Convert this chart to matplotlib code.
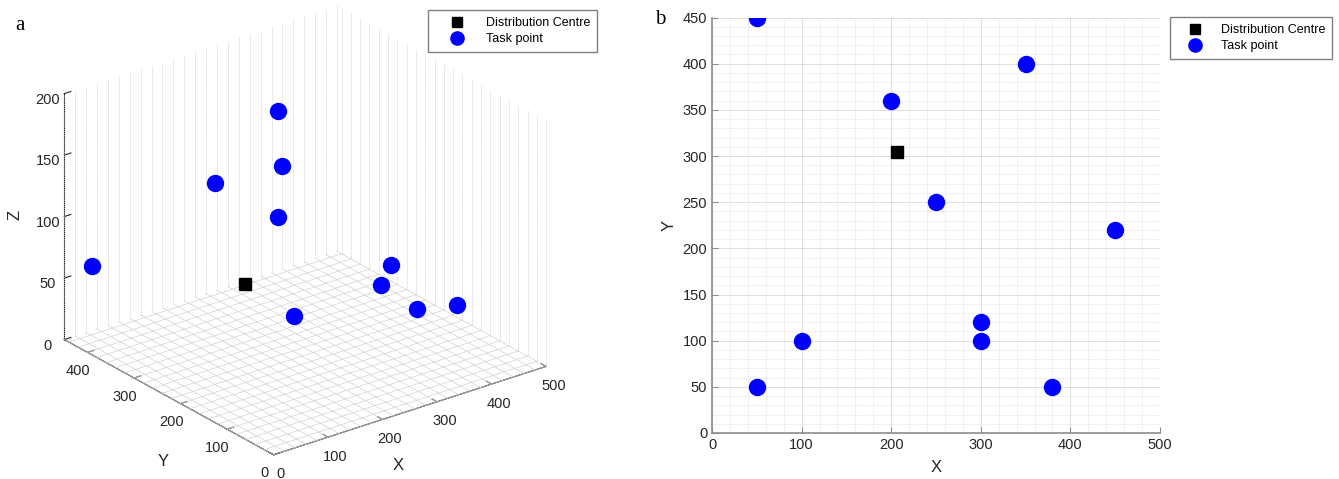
import numpy as np
import matplotlib
matplotlib.use('Agg')
import matplotlib.pyplot as plt
from matplotlib.ticker import MultipleLocator
from matplotlib.lines import Line2D

plt.rcParams['font.family'] = ['Liberation Sans', 'DejaVu Sans']

# task points (x, y, z) and the distribution centre
task_x = [50, 350, 200, 250, 450, 300, 100, 300, 50, 380]
task_y = [450, 400, 360, 250, 220, 120, 100, 100, 50, 50]
task_z = [53, 146, 117, 25, 8, 70, 200, 90, 176, 57]
dc_x = [207]
dc_y = [304]
dc_z = [46]

x_lim = (0, 500)
y_lim = (0, 450)
z_lim = (0, 200)
minor_step = 20  # spacing of the fine grid in the 3D view

txt_col = '#262626'
grid_col = '#d2d2d2'

fig = plt.figure(figsize=(13.39, 4.79), dpi=100)

# ---------------- a: 3D view ----------------
ax3 = fig.add_axes([-0.0180, -0.0594, 0.481, 1.128], projection='3d', computed_zorder=False)
ax3.set_proj_type('ortho')
ax3.view_init(elev=25, azim=-127.5)
ax3.set_box_aspect((1, 1, 0.79))
ax3.grid(False)

# fine grid on floor and the two back walls (MATLAB "grid minor" look)
gx = np.arange(x_lim[0], x_lim[1] + 1, minor_step)
gy = np.arange(y_lim[0], y_lim[1] + 1, minor_step)
gkw = dict(color=grid_col, linewidth=0.5, zorder=1)
for xv in gx:
    ax3.plot([xv, xv], list(y_lim), [0, 0], **gkw)
    ax3.plot([xv, xv], [y_lim[1]] * 2, list(z_lim), linestyle=(0, (2, 1)), **gkw)
for yv in gy:
    ax3.plot(list(x_lim), [yv, yv], [0, 0], **gkw)
    ax3.plot([x_lim[1]] * 2, [yv, yv], list(z_lim), linestyle=(0, (2, 1)), **gkw)

ax3.plot(dc_x, dc_y, dc_z, 's', color='black', markersize=9, linestyle='none', zorder=5)
ax3.plot(task_x, task_y, task_z, 'o', color='blue', markersize=11.5, linestyle='none', zorder=5)

ax3.set_xlim(*x_lim)
ax3.set_ylim(*y_lim)
ax3.set_zlim(*z_lim)
ax3.set_xticks(np.arange(0, 501, 100))
ax3.set_yticks(np.arange(0, 401, 100))
ax3.set_zticks(np.arange(0, 201, 50))

for axis in (ax3.xaxis, ax3.yaxis, ax3.zaxis):
    axis.set_pane_color((1, 1, 1, 0))
    axis._axinfo['axisline']['color'] = '#404040'
    axis._axinfo['axisline']['linewidth'] = 0.9
    axis._axinfo['tick']['inward_factor'] = 0.0
    axis._axinfo['tick']['outward_factor'] = 0.3
    axis._axinfo['tick']['color'] = '#404040'
ax3.tick_params(labelsize=10.5, colors=txt_col, pad=-1)

# axis titles placed where MATLAB puts them
fig.text(163 / 1339, 1 - 462 / 479, 'Y', fontsize=12, color=txt_col, ha='center', va='center')
fig.text(398 / 1339, 1 - 466 / 479, 'X', fontsize=12, color=txt_col, ha='center', va='center')
fig.text(15 / 1339, 1 - 215 / 479, 'Z', fontsize=12, color=txt_col, ha='center', va='center',
         rotation=90)

leg_kw = dict(fontsize=9, frameon=True, fancybox=False, edgecolor='#808080', framealpha=1,
              borderpad=0.55, handletextpad=0.6, labelspacing=0.35, borderaxespad=0)
h_dc = Line2D([], [], marker='s', color='black', linestyle='none', markersize=7.5)
h_tp = Line2D([], [], marker='o', color='blue', linestyle='none', markersize=9.5)
fig.legend([h_dc, h_tp], ['Distribution Centre', 'Task point'], handlelength=3.5,
           loc='upper left', bbox_to_anchor=(428 / 1339, 1 - 10 / 479), **leg_kw)

fig.text(15 / 1339, 1 - 25 / 479, 'a', family='Liberation Serif', fontsize=15, va='center')

# ---------------- b: plan view ----------------
ax2 = fig.add_axes([712 / 1339, 1 - 433 / 479, 448 / 1339, 415.5 / 479])
ax2.plot(dc_x, dc_y, 's', color='black', markersize=9, linestyle='none')
ax2.plot(task_x, task_y, 'o', color='blue', markersize=11.5, linestyle='none')
ax2.set_xlim(*x_lim)
ax2.set_ylim(*y_lim)
ax2.xaxis.set_major_locator(MultipleLocator(100))
ax2.xaxis.set_minor_locator(MultipleLocator(20))
ax2.yaxis.set_major_locator(MultipleLocator(50))
ax2.yaxis.set_minor_locator(MultipleLocator(10))
ax2.grid(True, which='major', color='#d9d9d9', linewidth=0.6)
ax2.grid(True, which='minor', color='#e3e3e3', linewidth=0.5, linestyle=(0, (2, 1)))
ax2.set_axisbelow(True)
for s in ('top', 'right'):
    ax2.spines[s].set_visible(False)
for s in ('left', 'bottom'):
    ax2.spines[s].set_color('#8c8c8c')
    ax2.spines[s].set_linewidth(1.2)
ax2.tick_params(which='both', direction='in', colors='#8c8c8c', labelcolor=txt_col, labelsize=10.5)
ax2.tick_params(which='major', length=4)
ax2.tick_params(which='minor', length=0)
ax2.set_xlabel('X', fontsize=12, color=txt_col, labelpad=6)
ax2.set_ylabel('Y', fontsize=12, color=txt_col, labelpad=4)
fig.legend([h_dc, h_tp], ['Distribution Centre', 'Task point'], handlelength=2.9,
           loc='upper right', bbox_to_anchor=(1332 / 1339, 1 - 17 / 479), **leg_kw)

fig.text(655 / 1339, 1 - 20 / 479, 'b', family='Liberation Serif', fontsize=15, va='center')

fig.savefig('out.png', dpi=100)
